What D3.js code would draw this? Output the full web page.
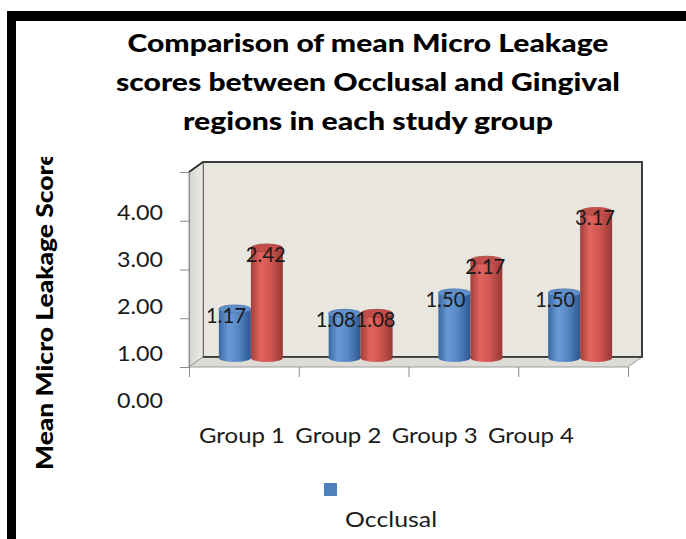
<!DOCTYPE html>
<html>
<head>
<meta charset="utf-8">
<script src="https://cdn.jsdelivr.net/npm/d3@7"></script>
<style>
  body { margin: 0; background: #fff; }
  svg { display: block; }
  text { font-family: Lato, "Open Sans", sans-serif; }
</style>
</head>
<body>
<div class="chart"></div>
<script>
// data
var groups = ["Group 1", "Group 2", "Group 3", "Group 4"];
var seriesNames = ["Occlusal", "Gingival"];
var occlusal = [1.17, 1.08, 1.50, 1.50];
var gingival = [2.42, 1.08, 2.17, 3.17];
var yTicks = [0, 1, 2, 3, 4];
var yTickLabels = ["0.00", "1.00", "2.00", "3.00", "4.00"];
var titleLines = ["Comparison of mean Micro Leakage",
                  "scores between Occlusal and Gingival",
                  "regions in each study group"];
var yTitle = "Mean Micro Leakage Scores";

var svgWidth = 686;
var svgHeight = 539;
var colors = ["#4f81bd", "#c0504d"];

// front plane of the 3d box and its depth offset
var plot = { left: 189, right: 628, top: 172, bottom: 367 };
var depth = { dx: 14, dy: -10 };

var svg = d3.select(".chart")
    .append("svg")
    .attr("width", svgWidth)
    .attr("height", svgHeight);

var defs = svg.append("defs");
function cylGrad(id, stops) {
    var g = defs.append("linearGradient").attr("id", id)
        .attr("x1", 0).attr("x2", 1).attr("y1", 0).attr("y2", 0);
    stops.forEach(function(s) {
        g.append("stop").attr("offset", s[0]).attr("stop-color", s[1]);
    });
}
cylGrad("blueGrad", [[0, "#3a68a3"], [0.3, "#6a9ad6"], [0.6, "#5788c5"], [1, "#2c5891"]]);
cylGrad("redGrad", [[0, "#a23f3c"], [0.3, "#e3645f"], [0.6, "#d15752"], [1, "#983935"]]);
var sideGrad = defs.append("linearGradient").attr("id", "sideGrad")
    .attr("x1", 0).attr("x2", 1).attr("y1", 0).attr("y2", 0);
sideGrad.append("stop").attr("offset", 0).attr("stop-color", "#d4d4d2");
sideGrad.append("stop").attr("offset", 1).attr("stop-color", "#ecebe6");

// frame (black border on top and left)
svg.append("rect").attr("x", 7).attr("y", 11)
    .attr("width", svgWidth - 7).attr("height", 10).attr("fill", "#000");
svg.append("rect").attr("x", 7).attr("y", 11)
    .attr("width", 9).attr("height", svgHeight - 11).attr("fill", "#000");

// title
svg.append("g").selectAll("text")
    .data(titleLines)
    .enter().append("text")
    .attr("x", 368)
    .attr("y", function(d, i) { return 52 + i * 39; })
    .attr("text-anchor", "middle")
    .attr("font-size", 25)
    .attr("font-weight", 900)
    .attr("fill", "#000")
    .attr("textLength", function(d, i) { return [481, 504, 370][i]; })
    .attr("lengthAdjust", "spacingAndGlyphs")
    .text(function(d) { return d; });

// scales
var y = d3.scaleLinear().domain([0, 4]).range([plot.bottom, plot.top]);
var yLabel = d3.scaleLinear().domain([0, 4]).range([408, 220]); // labels sit off the ticks in the source
var x = d3.scaleBand().domain(groups).range([plot.left, plot.right])
    .paddingInner(0.417).paddingOuter(0.2085);
var xSub = d3.scaleBand().domain(seriesNames).range([0, x.bandwidth()]);
var xEdge = d3.scaleLinear().domain([0, groups.length]).range([plot.left, plot.right]);
var xLabel = d3.scalePoint().domain(groups).range([242, 531]);

// back wall
var back = svg.append("g");
back.append("rect")
    .attr("x", plot.left + depth.dx)
    .attr("y", y(4) + depth.dy)
    .attr("width", plot.right - plot.left)
    .attr("height", y(0) - y(4))
    .attr("fill", "#e8e6df")
    .attr("stroke", "#2a2a2a")
    .attr("stroke-width", 1.8);

// side wall
back.append("polygon")
    .attr("points", [
        [plot.left, y(4)], [plot.left + depth.dx, y(4) + depth.dy],
        [plot.left + depth.dx, y(0) + depth.dy], [plot.left, y(0)]
    ].join(" "))
    .attr("fill", "url(#sideGrad)")
    .attr("stroke", "#9a9a9a")
    .attr("stroke-width", 1);
back.append("line")
    .attr("x1", plot.left).attr("y1", y(4))
    .attr("x2", plot.left + depth.dx).attr("y2", y(4) + depth.dy)
    .attr("stroke", "#2a2a2a").attr("stroke-width", 1.8);

// floor
back.append("polygon")
    .attr("points", [
        [plot.left, y(0)], [plot.left + depth.dx, y(0) + depth.dy],
        [plot.right + depth.dx, y(0) + depth.dy], [plot.right, y(0)]
    ].join(" "))
    .attr("fill", "#dcdbd5")
    .attr("stroke", "#9a9a9a")
    .attr("stroke-width", 1);
back.append("line")
    .attr("x1", plot.left + depth.dx).attr("y1", y(0) + depth.dy)
    .attr("x2", plot.right + depth.dx).attr("y2", y(0) + depth.dy)
    .attr("stroke", "#2a2a2a").attr("stroke-width", 1.5);

// axes
var leftAxis = d3.axisLeft(y).tickValues(yTicks).tickSize(9).tickSizeOuter(0).tickFormat("");
var yAxisG = svg.append("g")
    .attr("transform", "translate(" + plot.left + ",0)")
    .call(leftAxis);
yAxisG.selectAll("line, path").attr("stroke", "#8c8c8c");

var bottomAxis = d3.axisBottom(xEdge).tickValues(d3.range(groups.length + 1))
    .tickSize(10).tickSizeOuter(0).tickFormat("");
var xAxisG = svg.append("g")
    .attr("transform", "translate(0," + plot.bottom + ")")
    .call(bottomAxis);
xAxisG.select(".domain").remove();
xAxisG.selectAll("line").attr("stroke", "#8c8c8c");

svg.append("g").selectAll("text")
    .data(yTicks)
    .enter().append("text")
    .attr("x", 163)
    .attr("y", function(d) { return yLabel(d); })
    .attr("text-anchor", "end")
    .attr("font-size", 21)
    .attr("fill", "#1a1a1a")
    .attr("textLength", 46)
    .attr("lengthAdjust", "spacingAndGlyphs")
    .text(function(d, i) { return yTickLabels[i]; });

svg.append("g").selectAll("text")
    .data(groups)
    .enter().append("text")
    .attr("x", function(d) { return xLabel(d); })
    .attr("y", 443)
    .attr("text-anchor", "middle")
    .attr("font-size", 21)
    .attr("fill", "#1a1a1a")
    .attr("textLength", 86)
    .attr("lengthAdjust", "spacingAndGlyphs")
    .text(function(d) { return d; });

// y title, clipped at the top like the source
defs.append("clipPath").attr("id", "ytclip")
    .append("rect").attr("x", 0).attr("y", 157).attr("width", 120).attr("height", 400);
svg.append("g")
    .attr("clip-path", "url(#ytclip)")
    .append("text")
    .attr("transform", "translate(53,470) rotate(-90)")
    .attr("font-size", 23)
    .attr("font-weight", 900)
    .attr("fill", "#000")
    .attr("textLength", 330)
    .attr("lengthAdjust", "spacingAndGlyphs")
    .text(yTitle);

// bars as cylinders in the middle plane
var bars = [];
groups.forEach(function(g, i) {
    bars.push({ group: g, series: seriesNames[0], value: occlusal[i], s: 0 });
    bars.push({ group: g, series: seriesNames[1], value: gingival[i], s: 1 });
});
var ry = 4;
function barX(d) { return x(d.group) + xSub(d.series) + depth.dx / 2; }
function barTop(d) { return y(d.value) + depth.dy / 2; }
var base = y(0) + depth.dy / 2;
var w = xSub.bandwidth();

var barG = svg.append("g").selectAll("g")
    .data(bars)
    .enter().append("g");

barG.append("path")
    .attr("d", function(d) {
        var x0 = barX(d), t = barTop(d) + ry, b = base - ry;
        return "M" + x0 + "," + t + "L" + x0 + "," + b +
            "A" + (w / 2) + "," + ry + " 0 0 0 " + (x0 + w) + "," + b +
            "L" + (x0 + w) + "," + t + "Z";
    })
    .attr("fill", function(d) { return d.s === 0 ? "url(#blueGrad)" : "url(#redGrad)"; });

barG.append("ellipse")
    .attr("cx", function(d) { return barX(d) + w / 2; })
    .attr("cy", function(d) { return barTop(d) + ry; })
    .attr("rx", w / 2)
    .attr("ry", ry)
    .attr("fill", function(d) { return d.s === 0 ? "#5f8fcc" : "#c24e4a"; })
    .attr("stroke", function(d) { return d.s === 0 ? "#4a78b2" : "#a8423f"; })
    .attr("stroke-width", 0.8);

// value labels
svg.append("g").selectAll("text")
    .data(bars)
    .enter().append("text")
    .attr("x", function(d) { return barX(d) + w / 2 - (d.s === 0 ? 9 : 1); })
    .attr("y", function(d) { return barTop(d) + 18; })
    .attr("text-anchor", "middle")
    .attr("font-size", 21)
    .attr("fill", "#1a1a1a")
    .attr("textLength", 40)
    .attr("lengthAdjust", "spacingAndGlyphs")
    .text(function(d) { return d.value.toFixed(2); });

// legend (only the first entry falls inside the picture)
var legend = svg.append("g").selectAll("g")
    .data(seriesNames.slice(0, 1))
    .enter().append("g");
legend.append("rect")
    .attr("x", 324).attr("y", 483)
    .attr("width", 13).attr("height", 13)
    .attr("fill", function(d, i) { return colors[i]; });
legend.append("text")
    .attr("x", 345).attr("y", 527)
    .attr("font-size", 22)
    .attr("fill", "#1a1a1a")
    .attr("textLength", 92)
    .attr("lengthAdjust", "spacingAndGlyphs")
    .text(function(d) { return d; });
</script>
</body>
</html>
